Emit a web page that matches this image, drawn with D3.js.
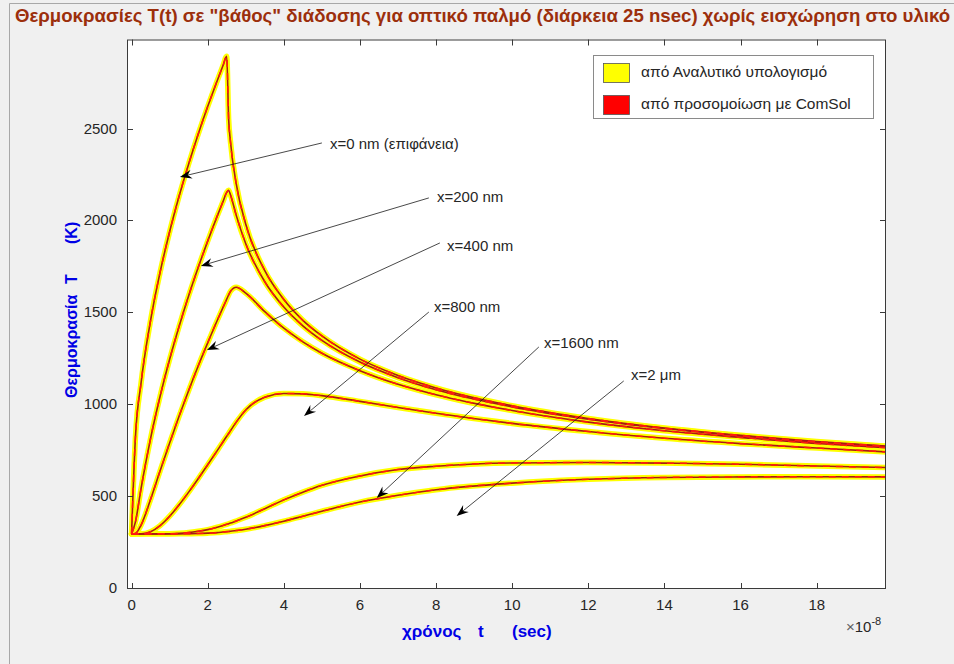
<!DOCTYPE html>
<html>
<head>
<meta charset="utf-8">
<script src="https://cdn.jsdelivr.net/npm/d3@7"></script>
<style>
  body { margin: 0; background: #f0f0f0; }
  svg { display: block; }
  text { font-family: "Liberation Sans", Arial, Helvetica, sans-serif; }
</style>
</head>
<body>
<svg id="chart" width="954" height="664"></svg>
<script>
// time samples, in units of 1e-8 s
const timeSteps = [0, 0.1, 0.25, 0.5, 0.75, 1, 1.25, 1.5, 1.75, 2, 2.25, 2.4, 2.5, 2.55, 2.6, 2.75,
  3, 3.5, 4, 4.5, 5, 6, 7, 8, 10, 12, 14, 16, 18, 19.85];

// temperature (K) at each depth
const tempX0    = [300, 820, 1122, 1462, 1724, 1944, 2138, 2313, 2475, 2625, 2766, 2847, 2899, 2558, 2431, 2204,
  1985, 1732, 1575, 1462, 1377, 1251, 1162, 1094, 997, 928, 876, 836, 802, 777];
const tempX200  = [300, 364, 548, 820, 1049, 1250, 1430, 1596, 1749, 1893, 2029, 2107, 2158, 2170, 2144, 2033,
  1879, 1672, 1534, 1432, 1353, 1235, 1150, 1084, 991, 924, 873, 833, 799, 775];
const tempX400  = [300, 302, 348, 488, 643, 795, 941, 1080, 1213, 1339, 1461, 1531, 1577, 1600, 1620, 1642,
  1610, 1509, 1419, 1345, 1283, 1188, 1114, 1057, 971, 908, 861, 825, 792, 769];
const tempX800  = [300, 300, 300, 312, 345, 396, 458, 527, 600, 676, 753, 800, 831, 846, 862, 908,
  974, 1044, 1064, 1062, 1052, 1021, 988, 956, 901, 857, 820, 791, 767, 746];
const tempX1600 = [300, 300, 300, 300, 300, 301, 303, 307, 314, 323, 336, 345, 352, 355, 359, 370,
  390, 437, 485, 527, 564, 615, 650, 668, 686, 688, 685, 679, 669, 661];
const tempX2000 = [300, 300, 300, 300, 300, 300, 300, 301, 302, 304, 307, 310, 312, 313, 314, 318,
  325, 345, 369, 396, 423, 473, 510, 540, 576, 597, 607, 610, 611, 610];

const depthSeries = [tempX0, tempX200, tempX400, tempX800, tempX1600, tempX2000];
const depthLabels = ["x=0 nm (επιφάνεια)", "x=200 nm", "x=400 nm", "x=800 nm", "x=1600 nm", "x=2 μm"];

// arrow tip / tail points in data units (t, T)
const arrowTipT  = [1.27, 1.82, 1.98, 4.53, 6.44, 8.54];
const arrowTipK  = [2242, 1758, 1300, 941, 495, 397];
const arrowTailT = [5.0, 7.81, 8.10, 7.81, 10.70, 12.93];
const arrowTailK = [2427, 2128, 1883, 1507, 1317, 1132];

const xTicks = [0, 2, 4, 6, 8, 10, 12, 14, 16, 18];
const yTicks = [0, 500, 1000, 1500, 2000, 2500];
const legendLabels = ["από Αναλυτικό υπολογισμό", "από προσομοίωση με ComSol"];
const legendColors = ["#ffff00", "#ff0000"];

const titleText = "Θερμοκρασίες T(t) σε \"βάθος\" διάδοσης για οπτικό παλμό (διάρκεια 25 nsec) χωρίς εισχώρηση στο υλικό";
const xLabelParts = ["χρόνος", "t", "(sec)"];
const yLabelParts = ["Θερμοκρασία", "T", "(K)"];

// ---- layout ----
const W = 954, H = 664;
const ax = { left: 127, right: 886, top: 39.5, bottom: 589 };
const svg = d3.select("#chart");

const x = d3.scaleLinear().domain([-0.12, 19.82]).range([ax.left, ax.right]);
const y = d3.scaleLinear().domain([0, 2990]).range([ax.bottom, ax.top]);

// figure background and window frame
svg.append("rect").attr("width", W).attr("height", H).attr("fill", "#f0f0f0");
svg.append("path").attr("d", `M9.5,${H} L9.5,3.5 L${W},3.5`)
  .attr("fill", "none").attr("stroke", "#a8a8a8").attr("stroke-width", 1);

// plot area
svg.append("rect").attr("x", ax.left).attr("y", ax.top)
  .attr("width", ax.right - ax.left).attr("height", ax.bottom - ax.top).attr("fill", "#ffffff");

const defs = svg.append("defs");
defs.append("clipPath").attr("id", "plotClip").append("rect")
  .attr("x", ax.left).attr("y", ax.top).attr("width", ax.right - ax.left).attr("height", ax.bottom - ax.top);
defs.append("filter").attr("id", "soft").attr("x", "-5%").attr("y", "-5%").attr("width", "110%").attr("height", "110%")
  .append("feGaussianBlur").attr("stdDeviation", 0.6);

const line = d3.line()
  .x((d, i) => x(timeSteps[i]))
  .y(d => y(d))
  .curve(d3.curveMonotoneX);

const curves = svg.append("g").attr("clip-path", "url(#plotClip)");

// analytic solution: wide yellow
curves.append("g").attr("filter", "url(#soft)")
  .selectAll("path").data(depthSeries).join("path")
  .attr("d", line).attr("fill", "none")
  .attr("stroke", "#ffff00").attr("stroke-width", 5.5)
  .attr("stroke-linejoin", "round").attr("stroke-linecap", "round");

// simulation: thin red
curves.append("g").selectAll("path").data(depthSeries).join("path")
  .attr("d", line).attr("fill", "none")
  .attr("stroke", "#a81a14").attr("stroke-width", 1.6).attr("stroke-linejoin", "round");
curves.append("g").selectAll("path").data(depthSeries).join("path")
  .attr("d", line).attr("fill", "none")
  .attr("stroke", "#ff1a10").attr("stroke-width", 1.5)
  .attr("stroke-dasharray", "7,6").attr("stroke-linejoin", "round");

// axes box with inward ticks on all four sides
const axisColor = "#3a3a3a";
const tickLen = 6;
const axesG = svg.append("g").attr("stroke", axisColor).attr("stroke-width", 1).attr("fill", "none");
axesG.append("rect").attr("x", ax.left + 0.5).attr("y", ax.top + 0.5)
  .attr("width", ax.right - ax.left - 1).attr("height", ax.bottom - ax.top - 1);

xTicks.forEach(v => {
  const px = Math.round(x(v)) + 0.5;
  axesG.append("line").attr("x1", px).attr("x2", px).attr("y1", ax.bottom).attr("y2", ax.bottom - tickLen);
  axesG.append("line").attr("x1", px).attr("x2", px).attr("y1", ax.top).attr("y2", ax.top + tickLen);
});
yTicks.forEach(v => {
  const py = Math.round(y(v)) - 0.5;
  axesG.append("line").attr("x1", ax.left).attr("x2", ax.left + tickLen).attr("y1", py).attr("y2", py);
  axesG.append("line").attr("x1", ax.right).attr("x2", ax.right - tickLen).attr("y1", py).attr("y2", py);
});

// tick labels
const tickFont = 15;
svg.append("g").selectAll("text").data(xTicks).join("text")
  .attr("x", d => x(d)).attr("y", 606)
  .attr("text-anchor", "middle").attr("dominant-baseline", "middle")
  .attr("font-size", tickFont).attr("fill", "#262626").text(d => d);
svg.append("g").selectAll("text").data(yTicks).join("text")
  .attr("x", 117).attr("y", d => y(d))
  .attr("text-anchor", "end").attr("dominant-baseline", "middle")
  .attr("font-size", tickFont).attr("fill", "#262626").text(d => d);

// exponent note for the time axis
const expo = svg.append("text").attr("x", 846).attr("y", 632).attr("font-size", 15).attr("fill", "#262626");
expo.append("tspan").text("×").attr("fill", "#606060");
expo.append("tspan").text("10");
expo.append("tspan").text("-8").attr("font-size", 11).attr("dy", -7);

// axis labels (word groups placed individually)
const xLab = svg.append("text").attr("y", 637)
  .attr("font-size", 17).attr("font-weight", "bold").attr("fill", "#0000e6");
const xLabPos = [402, 478, 512];
xLabelParts.forEach((p, i) => xLab.append("tspan").attr("x", xLabPos[i]).text(p));

const yLab = svg.append("text").attr("transform", "rotate(-90)").attr("y", 77)
  .attr("font-size", 16).attr("font-weight", "bold").attr("fill", "#0000e6");
const yLabPos = [398, 284, 244];
yLabelParts.forEach((p, i) => yLab.append("tspan").attr("x", -yLabPos[i]).text(p));

// title, scaled to run across the window
const title = svg.append("text")
  .attr("x", 15).attr("y", 22)
  .attr("font-size", 15).attr("font-weight", "bold").attr("fill", "#9c2f0c")
  .text(titleText);
const tw = title.node().getComputedTextLength();
title.attr("font-size", 15 * 936 / tw);

// depth annotations with arrows
const annG = svg.append("g");
const textX = [330, 437, 447, 434, 544, 631];
const textY = [145, 198, 247, 308, 344, 376];
depthLabels.forEach((lab, i) => {
  const x1 = x(arrowTailT[i]), y1 = y(arrowTailK[i]);
  const x2 = x(arrowTipT[i]), y2 = y(arrowTipK[i]);
  const ang = Math.atan2(y2 - y1, x2 - x1);
  const L = 12, Wd = 4.5, notch = 8;
  const ca = Math.cos(ang), sa = Math.sin(ang);
  const pt = (a, b) => [x2 - a * ca - b * sa, y2 - a * sa + b * ca];
  const back = pt(notch, 0);
  annG.append("line").attr("x1", x1).attr("y1", y1).attr("x2", back[0]).attr("y2", back[1])
    .attr("stroke", "#1a1a1a").attr("stroke-width", 0.8);
  const p1 = pt(L, Wd), p2 = pt(L, -Wd);
  annG.append("path")
    .attr("d", `M${x2},${y2} L${p1[0]},${p1[1]} L${back[0]},${back[1]} L${p2[0]},${p2[1]} Z`)
    .attr("fill", "#000");
  annG.append("text").attr("x", textX[i]).attr("y", textY[i])
    .attr("dominant-baseline", "middle").attr("font-size", 15).attr("fill", "#262626").text(lab);
});

// legend
const lg = svg.append("g");
lg.append("rect").attr("x", 593.5).attr("y", 55.5).attr("width", 280).attr("height", 63)
  .attr("fill", "#ffffff").attr("stroke", "#8a8a8a").attr("stroke-width", 1);
legendLabels.forEach((lab, i) => {
  const yy = 63 + i * 32;
  lg.append("rect").attr("x", 603.5).attr("y", yy + 0.5).attr("width", 26).attr("height", 19)
    .attr("fill", legendColors[i]).attr("stroke", "#555").attr("stroke-width", 0.8);
  lg.append("text").attr("x", 641).attr("y", yy + 10)
    .attr("dominant-baseline", "middle").attr("font-size", 15.5).attr("fill", "#262626").text(lab);
});
</script>
</body>
</html>
